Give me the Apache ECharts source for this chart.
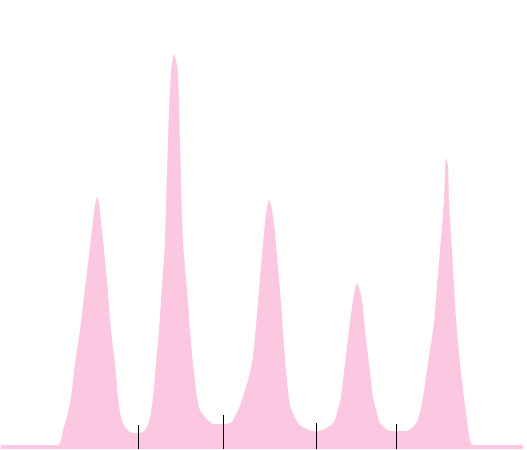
<!DOCTYPE html>
<html>
<head>
<meta charset="utf-8">
<script src="https://cdn.jsdelivr.net/npm/echarts@6/dist/echarts.min.js"></script>
<style>
    html, body { margin: 0; padding: 0; background: #fff; }
    #chart { width: 527px; height: 450px; }
</style>
</head>
<body>
<div id="chart"></div>
<script>
// positions along the trace and the signal level there
var positions = [0, 49, 57, 59, 60, 62, 66, 70, 74, 79, 85, 91, 94, 96, 98, 101, 106, 110, 114, 117, 120, 124, 129, 133, 137, 141, 144, 146, 149, 152, 155, 158, 161, 164, 167, 170, 173, 175, 177, 179, 182, 186, 189, 192, 196, 199, 204, 209, 213, 222, 229, 232, 237, 241, 244, 247, 252, 258, 264, 268, 270, 273, 279, 284, 287, 289, 292, 297, 302, 306, 312, 316, 321, 327, 333, 336, 340, 344, 348, 352, 356, 358, 361, 364, 368, 372, 376, 379, 384, 389, 396, 404, 408, 412, 417, 422, 427, 432, 433.5, 439, 443, 445, 447, 448, 451, 455, 456, 459, 463, 466, 469, 472, 522];
var levels = [1, 1, 1, 1.5, 2.25, 4.75, 8, 13, 21.5, 29.75, 42.25, 54.75, 61, 63, 61.5, 54.75, 42.25, 29.75, 21.5, 13, 8, 5.5, 4.25, 4, 4, 4.1, 4.75, 5.5, 8, 13, 21.5, 29.75, 40.5, 52.25, 77.25, 94, 98.75, 97.25, 94, 77.25, 52.25, 40, 29.75, 21.5, 13, 9.75, 8, 6.75, 6.25, 6.25, 6.5, 7.25, 9.75, 12.25, 14.75, 17.25, 23, 39.75, 56.5, 62.25, 61, 56.5, 39.75, 23, 14.75, 11, 9, 6.5, 5.5, 5, 4.5, 4.5, 4.75, 5.5, 6.75, 9, 13, 21.5, 29.75, 37.25, 41.5, 40.5, 37.25, 29.75, 21.5, 13, 9, 6.5, 5.25, 4.5, 4.5, 4.5, 4.75, 5.5, 7.25, 13, 21.5, 29.75, 33, 49.75, 62.25, 72.75, 71, 62.25, 49.75, 33, 29.75, 21.5, 13, 7.25, 2.25, 1, 1];

// split markers between the peaks
var cutPositions = [137, 222, 315, 395];
var cutHeights = [6, 8.5, 6.5, 6.25];

var chart = echarts.init(document.getElementById('chart'));

var seriesData = positions.map(function (x, i) {
    return [x, levels[i]];
});

var cutLines = cutPositions.map(function (x, i) {
    return [{ coord: [x, 0] }, { coord: [x, cutHeights[i]] }];
});

var option = {
    animation: false,
    grid: {
        left: 1,
        right: 4,
        top: 49,
        bottom: 1
    },
    xAxis: {
        type: 'value',
        min: 0,
        max: 522,
        show: false
    },
    yAxis: {
        type: 'value',
        min: 0,
        max: 100,
        show: false
    },
    series: [{
        type: 'line',
        data: seriesData,
        symbol: 'none',
        smooth: 0.25,
        lineStyle: { width: 0 },
        areaStyle: { color: '#fcc8e1', opacity: 1 },
        markLine: {
            silent: true,
            symbol: 'none',
            label: { show: false },
            lineStyle: { color: '#000', width: 1, type: 'solid' },
            data: cutLines
        }
    }]
};
chart.setOption(option);
</script>
</body>
</html>
